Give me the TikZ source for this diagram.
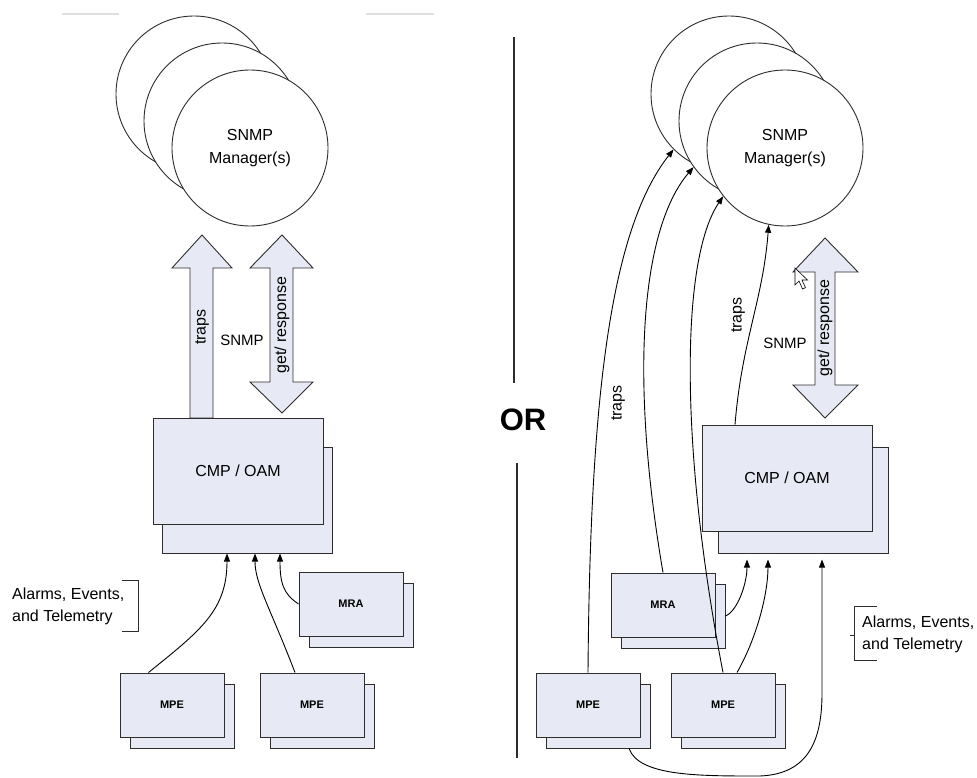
\documentclass[tikz,border=0pt]{standalone}
\usepackage{fontspec}
\setmainfont{Liberation Sans}
\usetikzlibrary{positioning}
\usetikzlibrary{calc}
\usetikzlibrary{arrows.meta}

\definecolor{boxfill}{RGB}{231,234,244}
\definecolor{edge}{RGB}{45,45,45}

\tikzset{
  mgr/.style={circle,draw=edge,fill=white,minimum size=156pt,inner sep=0pt,line width=0.9pt,
    align=center,font=\fontsize{16}{23}\selectfont},
  unit/.style={rectangle,draw=edge,fill=boxfill,line width=1pt,inner sep=0pt,
    minimum width=104pt,minimum height=64pt,font=\bfseries\fontsize{11}{12}\selectfont},
  cmp/.style={unit,minimum width=170pt,minimum height=106pt,font=\fontsize{16}{18}\selectfont},
  blk/.style={draw=edge,fill=boxfill,line width=0.9pt},
  feed/.style={draw=black,line width=0.9pt,-{Triangle[length=8pt,width=6pt]}},
  lbl/.style={inner sep=0pt,font=\fontsize{16}{22}\selectfont},
}

\begin{document}
\begin{tikzpicture}[x=1pt,y=-1pt]
\useasboundingbox (0,0) rectangle (977,778);
\draw[black!12,line width=1.5pt] (62,14) -- (119,14) (366,14) -- (434,14);

% managers
\node[mgr] (mgrL-a) at (194,94) {};
\node[mgr] (mgrL-b) at (222,121) {};
\node[mgr] (mgrL) at (250,148) {SNMP\\Manager(s)};
\node[mgr] (mgrR-a) at (729,94) {};
\node[mgr] (mgrR-b) at (757,121) {};
\node[mgr] (mgrR) at (785,148) {SNMP\\Manager(s)};

% block arrows
\draw[blk] (190,418) -- (190,268) -- (172,268) -- (202,235) -- (232,268) -- (213,268) -- (213,418) -- cycle;
\draw[blk] (282,235) -- (313,268) -- (293,268) -- (293,382) -- (313,382) -- (282,413)
  -- (250,382) -- (270,382) -- (270,268) -- (250,268) -- cycle;
\draw[blk] (825,238) -- (858,272) -- (835,272) -- (835,385) -- (858,385) -- (825,418)
  -- (793,385) -- (815,385) -- (815,272) -- (793,272) -- cycle;

\node[lbl,rotate=90] (trapsL) at (202,327) {traps};
\node[lbl,rotate=90] (getL) at (282,325) {get/ response};
\node[lbl,font=\fontsize{15}{18}\selectfont] (snmpL) at (242,340) {SNMP};
\node[lbl,rotate=90] (getR) at (825,328) {get/ response};
\node[lbl,font=\fontsize{15}{18}\selectfont] (snmpR) at (785,343) {SNMP};

% CMP / OAM
\node[cmp] (cmpL-b) at (247,500) {};
\node[cmp] (cmpL) at (238,471) {CMP / OAM};
\node[cmp] (cmpR-b) at (803,500) {};
\node[cmp] (cmpR) at (787,478) {CMP / OAM};

% MRA / MPE stacks
\foreach \n/\x/\y/\t in {mraL/351/604/MRA,mpeL1/172/705/MPE,mpeL2/312/705/MPE,
    mraR/663/605/MRA,mpeR1/588/705/MPE,mpeR2/723/705/MPE}{
  \node[unit] (\n-b) at (\x+10,\y+11) {};
  \node[unit] (\n) at (\x,\y) {\t};
}

% left feeds
\draw[feed] ([xshift=-23.5pt]mpeL1.north) .. controls +(52,-42) and +(0,57) .. ([xshift=-20pt]cmpL-b.south);
\draw[feed] ([xshift=-17pt]mpeL2.north) .. controls +(-25,-65) and +(0,30) .. ([xshift=8pt]cmpL-b.south);
\draw[feed] (mraL.west) .. controls +(-15,-10) and +(0,30) .. ([xshift=33pt]cmpL-b.south);

% right traps
\draw[feed] (mpeR1.north) .. controls (590,400) and (610,230) .. (mgrR-a.225);
\draw[feed] (mraR.north) .. controls (630,380) and (640,230) .. (mgrR-b.216);
\draw[feed] (mpeR2.north) .. controls (680,450) and (680,260) .. (mgrR.218);
\draw[feed] ([xshift=-52pt]cmpR.north) .. controls (742,340) and (763,300) .. (mgrR.258);
\node[lbl,rotate=90] (trapsR1) at (618,403) {traps};
\node[lbl,rotate=90] (trapsR2) at (738,315) {traps};

% right feeds
\draw[feed,shorten >=6pt] (mraR-b.east) .. controls +(12,-5) and +(0,30) .. ([xshift=-56pt]cmpR-b.south);
\draw[feed,shorten >=6pt] ([xshift=14pt]mpeR2.north) .. controls +(20,-35) and +(0,40) .. ([xshift=-35pt]cmpR-b.south);
\coordinate (loop) at (760,776);
\draw[feed,shorten >=6pt] ([xshift=31pt]mpeR1-b.south) .. controls +(10,28) and +(-60,0) .. (loop)
  .. controls +(50,-2) and +(0,45) .. (822,693) -- ([xshift=19pt]cmpR-b.south);

% alarms brackets
\node[lbl,align=left,anchor=west] (alarmL) at (12,606) {Alarms, Events,\\and Telemetry};
\draw[edge,line width=1pt] (122,580) -- (138,580) -- (138,631) -- (122,631);
\node[lbl,align=left,anchor=west] (alarmR) at (862,634) {Alarms, Events,\\and Telemetry};
\draw[edge,line width=1pt] (877,606) -- (854,606) -- (854,660) -- (877,660) (850,635) -- (854,635);

% OR
\node[font=\bfseries\fontsize{31}{31}\selectfont] (or) at (523,420) {OR};
\draw[edge,line width=1.3pt] (514,37) -- (514,383) (517,463) -- (517,758);

% pointer
\draw[fill=white,line width=0.6pt] (795,268) -- ++(0,17) -- ++(4,-4) -- ++(3.5,8) -- ++(3,-1.3)
  -- ++(-3.5,-7.7) -- ++(5.5,0) -- cycle;
\end{tikzpicture}
\end{document}
